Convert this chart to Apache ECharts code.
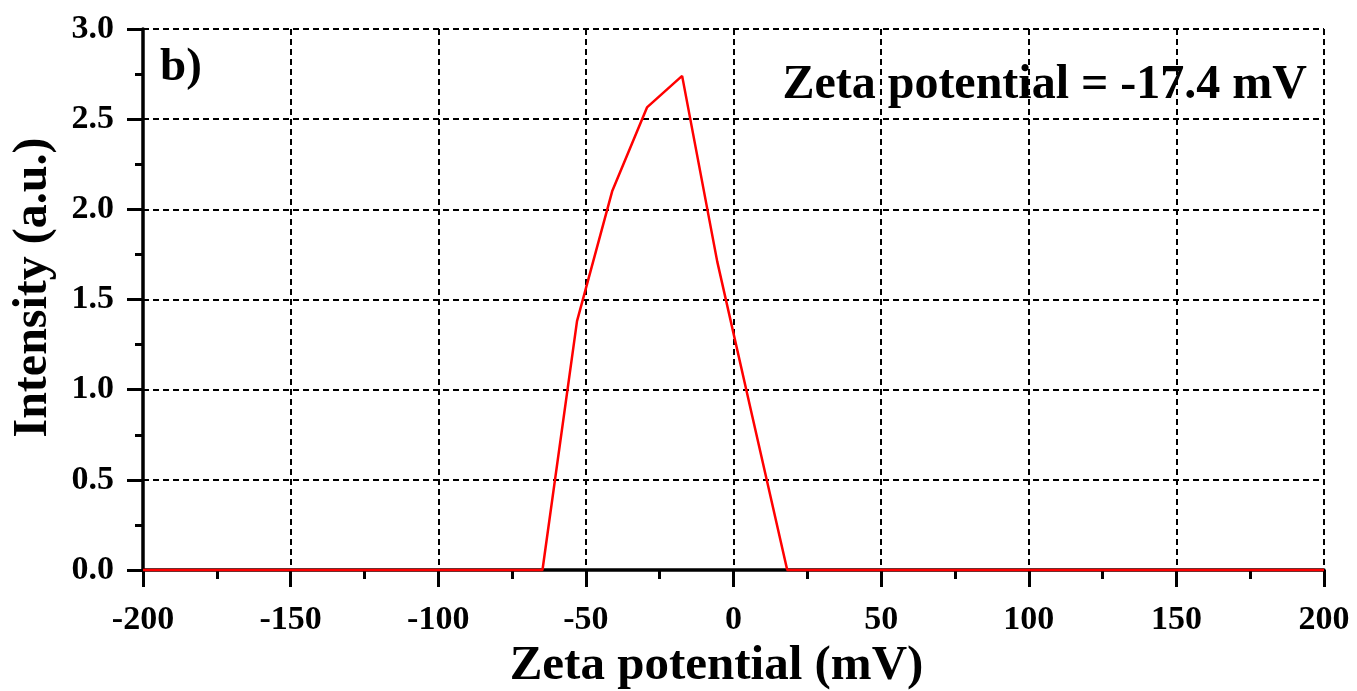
<!DOCTYPE html>
<html>
<head>
<meta charset="utf-8">
<script src="https://cdn.jsdelivr.net/npm/echarts@6/dist/echarts.min.js"></script>
<style>
html,body{margin:0;padding:0;background:#fff;}
#chart{width:1357px;height:691px;}
</style>
</head>
<body>
<div id="chart"></div>
<script>
// Data
const zetaX = [-200, -64.7, -53.0, -41.1, -29.3, -17.4, -5.5, 6.4, 18.2, 200];
const intensityY = [0, 0, 1.38, 2.10, 2.565, 2.74, 1.71, 0.85, 0, 0];
const xTicks = [-200, -150, -100, -50, 0, 50, 100, 150, 200];
const yTicks = ['0.0', '0.5', '1.0', '1.5', '2.0', '2.5', '3.0'];
const xTitle = 'Zeta potential (mV)';
const yTitle = 'Intensity (a.u.)';
const panelLabel = 'b)';
const annotation = 'Zeta potential = -17.4 mV';

const seriesData = zetaX.map((x, i) => [x, intensityY[i]]);
const FONT = '"Liberation Serif", "Times New Roman", serif';

const chart = echarts.init(document.getElementById('chart'), null, {renderer: 'canvas'});
const dashed = {show: true, lineStyle: {color: '#000', type: [6, 4], width: 2}};
chart.setOption({
  animation: false,
  backgroundColor: '#fff',
  grid: {left: 143, right: 33, top: 29, bottom: 121, containLabel: false, outerBoundsMode: 'none'},
  xAxis: {
    type: 'value', min: -200, max: 200, interval: 50,
    axisLine: {show: true, onZero: false, lineStyle: {color: '#000', width: 3.5}},
    axisTick: {show: true, inside: false, length: 17, lineStyle: {color: '#000', width: 3}},
    minorTick: {show: true, splitNumber: 2, length: 9, lineStyle: {color: '#000', width: 3}},
    splitLine: dashed,
    axisLabel: {
      margin: 33, color: '#000', fontFamily: FONT, fontWeight: 'bold', fontSize: 34,
      formatter: v => String(xTicks.find(t => Math.abs(t - v) < 1e-6) ?? v)
    },
    name: xTitle, nameLocation: 'middle', nameGap: 71,
    nameTextStyle: {color: '#000', fontFamily: FONT, fontWeight: 'bold', fontSize: 49,
                    padding: [0, 34, 0, 0]}
  },
  yAxis: {
    type: 'value', min: 0, max: 3, interval: 0.5,
    axisLine: {show: true, onZero: false, lineStyle: {color: '#000', width: 3.5}},
    axisTick: {show: true, inside: false, length: 16, lineStyle: {color: '#000', width: 3}},
    minorTick: {show: true, splitNumber: 2, length: 8, lineStyle: {color: '#000', width: 3}},
    splitLine: dashed,
    axisLabel: {
      margin: 29, color: '#000', fontFamily: FONT, fontWeight: 'bold', fontSize: 34,
      formatter: v => yTicks[Math.round(v / 0.5)]
    },
    name: yTitle, nameLocation: 'middle', nameGap: 85, nameRotate: 90,
    nameTextStyle: {color: '#000', fontFamily: FONT, fontWeight: 'bold', fontSize: 48,
                    padding: [0, 0, 0, 24]}
  },
  graphic: [
    {type: 'text', left: 160, top: 44, z: 100,
     style: {text: panelLabel, fill: '#000', font: 'bold 47px ' + FONT}},
    {type: 'text', right: 50, top: 62, z: 100,
     style: {text: annotation, fill: '#000', font: 'bold 48px ' + FONT}}
  ],
  series: [{
    type: 'line', data: seriesData, symbol: 'none', showSymbol: false,
    lineStyle: {color: '#ff0000', width: 2.5}, z: 5, clip: false
  }]
});
</script>
</body>
</html>
